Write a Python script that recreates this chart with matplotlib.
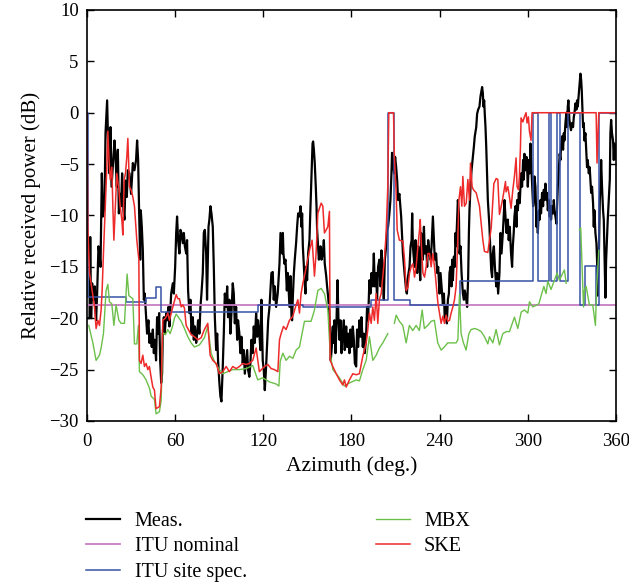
import numpy as np
import matplotlib
matplotlib.use("Agg")
import matplotlib.pyplot as plt

plt.rcParams['font.family'] = ['Liberation Serif', 'DejaVu Serif']

meas_az = [0, 1.7, 2.2, 2.8, 3.5, 4.4, 5.3, 6.2, 6.9, 7.8, 8.5, 9.2, 10.1, 10.8, 11.9, 12.6, 13.7, 14.4,
           15.3, 16.0, 16.7, 17.6, 18.7, 19.4, 20.3, 21.0, 21.7, 22.6, 23.2, 23.9, 24.8, 25.5, 26.2, 27.1,
           27.8, 28.9, 30.0, 31.2, 32.3, 33.4, 34.1, 34.8, 35.5, 36.2, 36.6, 37.3, 38.0, 38.7, 39.3, 40.2,
           40.9, 41.8, 42.5, 43.2, 44.1, 44.8, 45.5, 46.1, 47.0, 47.7, 48.4, 49.1, 49.8, 50.5, 51.1, 51.6,
           52.3, 52.9, 53.9, 54.5, 55.4, 56.1, 57.3, 58.4, 59.1, 60.0, 60.7, 61.3, 62.0, 62.9, 63.6, 64.3,
           65.2, 65.9, 66.6, 67.5, 68.1, 68.8, 69.7, 70.4, 71.1, 72.0, 72.7, 73.4, 74.3, 75.0, 75.6, 76.5,
           77.2, 77.9, 78.8, 79.5, 80.2, 81.1, 81.7, 82.7, 83.3, 84.0, 84.7, 85.6, 86.3, 87.0, 87.9, 88.6,
           89.2, 90.1, 90.8, 91.5, 92.4, 93.1, 93.8, 94.7, 95.4, 96.0, 96.9, 97.6, 98.3, 99.2, 99.9, 100.6,
           101.5, 102.2, 102.8, 103.7, 104.4, 105.1, 106.0, 106.7, 107.4, 108.3, 109.0, 109.6, 110.5, 111.2,
           111.9, 112.8, 113.5, 114.2, 115.1, 115.8, 116.4, 117.3, 118.0, 118.7, 119.6, 120.3, 121.0, 121.9,
           122.6, 123.3, 124.2, 124.8, 125.5, 126.4, 127.1, 127.8, 128.7, 129.8,
           131.0, 131.7, 132.4, 132.8, 133.3, 133.7, 134.4, 135.1, 136.0, 136.7, 137.4, 137.8, 138.5, 139.2,
           139.6, 140.1, 140.8, 141.4, 142.3, 143.0, 143.7, 144.6, 145.3, 146.0, 146.4, 146.9, 147.6, 148.2,
           148.7, 149.1, 149.8, 150.5, 151.4, 152.1, 152.8, 153.5, 153.9, 154.4, 155.0, 155.7, 156.2, 156.6,
           157.3, 157.8, 158.2, 158.9, 159.6, 160.5, 161.2, 161.8, 162.8, 163.4, 164.1, 164.8, 165.5, 165.9,
           166.6, 167.3, 167.7, 168.4, 169.1, 169.6, 170.5, 171.1, 171.8, 172.5, 173.2, 174.1, 174.8, 175.4,
           176.4, 177.0, 177.7, 178.6, 179.3, 180.0, 180.9, 181.6, 182.3, 183.2, 183.8, 184.5, 185.4, 186.1,
           186.8, 187.7, 188.4, 189.1, 190.0, 190.6, 191.3, 192.2, 192.9, 193.6, 194.5, 195.2, 195.9, 196.8,
           197.4, 198.1, 199.0, 199.7, 200.4, 201.3, 202.0, 202.7, 203.6, 204.2, 204.9, 205.8, 206.5, 207.2,
           207.6, 208.3, 209.0, 209.7, 210.4, 211.1, 211.7, 212.6,
           213.8, 215.0, 216.1, 217.2, 217.7, 218.4, 219.5, 220.2, 220.9, 221.3, 221.8, 222.5, 223.1, 223.6,
           224.0, 224.7, 225.4, 226.3, 226.8, 227.4, 228.1, 228.6, 229.3, 229.9, 230.8, 231.5, 232.2, 233.1,
           233.8, 234.5, 235.4, 236.1, 236.7, 237.6, 238.3, 239.0, 239.9, 240.6, 241.3, 242.2, 242.9, 243.5,
           244.2, 244.9, 245.6, 246.3, 246.7, 247.4, 248.1, 248.5, 249.0, 249.7, 250.3, 250.8, 251.2, 251.9,
           252.4, 253.1, 253.5, 254.2, 254.9, 255.8, 256.5, 257.1, 258.1, 258.7, 259.4, 259.9, 260.3, 261.0,
           261.7, 262.6, 263.3, 263.9, 264.9, 265.5, 266.2, 267.1, 267.8, 268.5, 268.9, 269.4, 269.8, 270.3,
           270.7, 271.2, 271.7, 272.1, 272.8, 273.5, 273.9, 274.4, 275.1, 275.7, 276.2, 276.9, 277.6, 278.5,
           279.1, 279.8, 280.7, 281.4, 282.1, 283.0, 283.7,
           284.1, 284.8, 285.5, 286.4, 287.0, 287.7, 288.6, 289.3, 289.8, 290.4, 290.9, 291.6, 292.3, 292.7,
           293.2, 293.9, 294.5, 295.0, 295.4, 296.1, 296.8, 297.3, 297.7, 298.4, 299.1, 299.5, 300.0, 300.7,
           301.3, 301.8, 302.2, 302.9, 303.6, 304.1, 304.5, 305.2, 305.9, 306.3, 306.8, 307.5, 308.1, 308.6,
           309.0, 309.7, 310.4, 310.9, 311.3, 312.0, 312.7, 313.1, 313.6, 314.3, 314.9, 315.4, 315.8, 316.5,
           317.2, 317.7, 318.1, 318.8, 319.5, 320.4, 321.1, 321.7, 322.2, 322.6, 323.3, 324.0, 324.5, 324.9,
           325.6, 326.3, 326.7, 327.2, 327.6, 328.3, 329.0, 329.4, 330.1, 330.8, 331.3, 331.7, 332.4, 333.1,
           333.5, 334.0, 334.7, 335.3, 335.8, 336.3, 336.7, 337.2, 337.6, 338.1, 338.5, 339.2, 339.9, 340.3,
           340.8, 341.5, 342.1, 342.6, 343.1, 343.7, 344.4, 344.9, 345.3, 346.0, 346.7, 347.1, 347.6, 348.3,
           349.0, 349.4, 349.9, 350.5, 351.2, 351.7, 352.1, 352.8, 353.3, 353.9, 354.4, 355.1, 355.8, 356.2,
           356.7, 357.3, 358.0, 358.5, 358.9, 360.0]
meas_db = [-20.0, -20.0, -12.1, -20.0, -16.6, -18.2, -16.9, -20.2, -17.6, -13.0, -13.7, -15.0, -5.9, -10.1,
           -9.1, -2.0, 1.2, -3.0, -5.9, -1.4, -7.2, -5.2, -2.7, -4.3, -7.2, -3.6, -9.8, -7.9, -9.1, -5.9,
           -9.5, -10.4, -6.6, -8.2, -5.6, -5.9, -7.9, -4.9, -5.6, -4.6, -2.7, -4.6, -9.8, -14.3, -9.5, -11.1,
           -13.4, -18.2, -17.6, -19.9, -21.5, -20.2, -22.4, -21.5, -22.8, -21.1, -23.4, -22.1, -24.1, -19.9,
           -21.5, -19.5, -24.1, -26.3, -25.4, -21.5, -19.9, -21.5, -19.5, -20.2, -18.9, -20.8, -17.6, -16.6,
           -17.6, -15.0, -11.7, -10.1, -12.4, -13.7, -11.4, -11.7, -12.7, -11.7, -13.0, -13.7, -12.4, -17.3,
           -19.5, -18.2, -21.5, -19.9, -22.1, -20.8, -22.4, -21.5, -20.2, -21.5, -18.9, -17.6, -15.6, -11.7,
           -11.4, -13.7, -18.2, -11.1, -10.4, -9.1, -9.8, -11.1, -15.0, -19.9, -23.1, -21.5, -24.1, -26.3,
           -27.6, -28.1, -24.7, -21.5, -17.6, -18.9, -16.9, -19.9, -18.2, -21.5, -19.5, -16.6, -17.6, -20.5,
           -18.9, -22.1, -20.2, -21.5, -23.4, -21.8, -24.4, -23.1, -25.4, -24.1, -23.1, -25.0, -25.7, -24.4,
           -22.1, -23.4, -20.8, -22.4, -19.5, -21.8, -20.2, -21.5, -23.1, -18.2, -24.1, -25.0, -27.0, -24.7,
           -22.4, -20.2, -18.9, -17.3, -15.6, -15.5, -18.2, -16.9, -18.9, -17.6,
           -14.7, -11.7, -13.0, -13.7, -11.7, -13.7, -14.7, -14.3, -17.3, -15.6, -17.6, -18.9, -15.9, -19.9,
           -20.2, -17.9, -15.6, -14.3, -12.7, -11.1, -9.8, -10.1, -9.1, -11.1, -9.8, -13.0, -15.0, -16.6,
           -17.6, -15.0, -16.3, -13.7, -12.4, -9.1, -6.2, -3.0, -2.8, -3.6, -4.9, -7.2, -9.1, -11.4,
           -13.0, -14.3, -13.7, -13.0, -14.3, -13.7, -12.4, -14.7, -15.9, -16.9, -17.9, -19.2, -21.5, -24.1,
           -22.8, -20.8, -22.4, -20.2, -23.4, -21.5, -16.3, -19.9, -22.1, -20.2, -23.4, -21.5, -20.2, -23.1,
           -20.8, -22.8, -21.5, -23.4, -21.1, -22.8, -20.8, -22.1, -24.4, -24.7, -21.1, -22.8, -20.2, -21.8,
           -19.9, -22.8, -21.5, -23.4, -21.5, -18.9, -20.2, -16.3, -17.6, -15.6, -16.9, -13.7, -16.9, -15.6,
           -18.2, -15.0, -14.3, -16.9, -13.4, -15.6, -18.2, -14.3, -13.0, -11.4, -11.1, -9.8, -8.5, -5.9,
           -3.9, -4.6, -5.9, -4.3, -5.3, -6.6, -8.5, -7.9,
           -10.1, -13.7, -15.6, -17.3, -17.6, -16.0, -15.0, -13.0, -12.4, -9.8, -13.0, -14.3, -15.0, -12.4,
           -14.3, -15.6, -13.0, -15.0, -16.3, -11.7, -13.0, -14.3, -11.1, -13.7, -13.0, -15.0, -12.4, -13.7,
           -14.3, -13.0, -10.1, -12.4, -14.3, -13.7, -15.6, -15.0, -17.6, -15.6, -16.9, -18.6, -17.6, -20.2,
           -18.9, -20.5, -18.2, -17.6, -15.6, -15.0, -16.9, -14.3, -16.3, -14.0, -15.0, -11.7, -13.0, -10.4,
           -8.5, -9.8, -13.7, -13.0, -15.6, -17.6, -18.2, -17.3, -18.2, -18.9, -16.0, -11.7, -9.5, -7.2,
           -5.6, -4.3, -3.3, -2.3, -1.4, -0.1, 0.3, 0.6, 1.6, 2.2, 2.5, 1.9, 0.6, 1.2,
           -0.1, -1.4, -3.3, -5.3, -8.5, -10.1, -11.1, -13.0, -15.3, -16.0, -13.7, -13.0, -15.0, -16.9,
           -15.6, -17.6, -15.6, -11.7, -13.7, -11.7, -9.8,
           -8.5, -10.1, -11.7, -10.4, -12.4, -11.1, -13.7, -15.0, -13.0, -11.7, -10.1, -9.1, -11.1, -8.5,
           -9.5, -7.8, -8.8, -7.2, -5.9, -7.2, -4.6, -6.5, -4.0, -5.6, -4.3, -5.3, -7.2, -4.6,
           -5.9, -3.0, -4.6, -6.9, -9.1, -8.5, -6.2, -7.2, -11.1, -9.8, -11.7, -9.5, -10.4, -8.5,
           -9.8, -7.8, -9.1, -7.5, -8.5, -6.9, -8.5, -7.8, -9.5, -8.5, -10.1, -9.1, -10.4, -9.1,
           -9.8, -8.5, -9.5, -10.1, -10.8, -7.2, -5.6, -4.0, -4.6, -3.3, -2.3, -3.6, -2.0, -2.7,
           -1.0, 0.0, -1.4, 0.6, 1.2, -0.7, -1.4, -1.7, -1.0, -1.4, -0.4, -0.1, 0.9, 0.3,
           1.2, 0.6, 1.9, 2.9, 3.8, 3.2, 2.2, 0.3, -1.4, -1.0, -2.7, -2.0, -4.0, -5.3,
           -4.6, -5.9, -5.3, -6.5, -7.8, -7.2, -8.8, -11.1, -9.5, -11.7, -12.7, -14.3, -17.8, -14.3,
           -8.5, -7.2, -4.6, -7.2, -9.5, -10.4, -13.0, -18.0, -14.3, -12.1, -10.4, -8.5, -6.5, -2.0,
           -0.7, -2.0, -2.7, -4.6, -3.0, -4.5]

# ITU nominal
itu_nom_az = [0, 360]
itu_nom_db = [-18.7, -18.7]

# ITU site specific: step edges and level after each edge
itu_site_az = [0, 0.5, 26.6, 40.3, 47.1, 50.5, 116.3, 146.9, 193.0, 204.7, 208.8, 219.5, 253.7,
               303.4, 306.8, 314.3, 316.1, 319.8, 321.6, 323.2, 327.2, 335.2, 338.6, 346.5, 348.3, 360]
itu_site_db = [0, -17.95, -18.4, -18.0, -17.0, -19.4, -18.7, -18.9, -18.2, 0, -18.2, -18.7, -16.4,
               0, -16.4, 0, -16.4, 0, -16.4, -16.4, 0, -18.7, -14.9, -18.7, 0, 0]

# MBX (nan = not drawn)
mbx_az = [1.2, 4.0, 6.2, 8.5, 9.6, 11.2, 13.0, 14.2, 15.3, 16.9, 18.3, 19.8, 21.7, 23.2, 25.5, 26.6,
          27.3, 28.5, 31.2, 32.3, 33.9, 35.0, 35.7, 38.0, 40.2, 42.5, 43.7, 45.9, 47.0, 49.3, 50.5, 51.6,
          53.4, 55.0, 56.6, 58.4, 59.5, 60.7, 62.2, 64.1, 66.3, 68.6, 70.9, 73.1, 76.5, 79.9, 82.2, 84.5,
          86.7, 90.1, 92.4, 95.8, 99.2, 103.7, 108.3, 112.8, 116.2, 119.6, 124.2, 128.7, 130.6, 131.5,
          133.3, 135.5, 137.8, 140.1, 142.3, 144.6, 148.0, 150.3, 152.5, 154.8, 157.1, 159.4, 161.6, 163.9,
          165.5, 167.3, 171.8, 175.2, 178.6, 183.2, 185.4, 187.7, 190.0, 192.2, 194.5, 196.8, 199.0, 201.3,
          204.7, 206.5, 209.2, 210.4, 212.6, 214.9, 217.2, 219.4, 221.7, 224.0, 226.2, 228.1, 229.6, 231.9,
          234.2, 236.4, 238.7, 241.0, 243.2, 245.5, 247.8, 251.2, 252.4, 253.5, 254.6, 256.2, 258.0, 259.9,
          261.4, 263.7, 266.0, 268.2, 270.5, 272.8, 273.9, 276.2, 278.4, 280.7, 283.0, 285.3, 287.5, 288.7,
          290.9, 293.2, 295.5, 297.7, 300.0, 301.1, 303.4, 307.5, 310.9, 312.4, 313.6, 315.8, 318.1, 319.9,
          321.5, 323.8, 324.9, 326.1, 330.0, 335.1, 336.0, 337.9, 338.5, 339.7, 341.9, 344.2, 346.0, 346.9,
          348.3]
mbx_db = [-20.7, -22.4, -24.1, -23.6, -22.9, -21.5, -17.3, -16.7, -18.4, -18.6, -20.7, -18.7, -20.2,
          -20.5, -20.5, -17.6, -15.7, -17.8, -18.1, -22.5, -22.5, -20.7, -25.2, -25.5, -26.0, -26.8, -27.6,
          -27.9, -29.3, -29.1, -28.0, -21.4, -21.6, -21.1, -21.5, -20.7, -20.0, -19.6, -19.9, -20.3, -21.0,
          -21.8, -22.4, -22.8, -22.6, -21.9, -20.8, -23.4, -24.2, -25.0, -25.4, -25.2, -25.0, -25.0, -24.9,
          -24.6, -26.0, -25.8, -26.2, -26.4, -26.6, -24.2, -23.4, -24.1, -23.7, -23.9, -23.1, -22.8, -20.3,
          -20.3, -20.3, -19.2, -17.3, -17.1, -17.6, -19.2, -23.4, -25.0, -25.8, -26.6, -26.3, -26.0, -26.1,
          -25.0, -24.1, -21.8, -24.1, -23.6, -22.9, -22.4, -21.5, np.nan, -20.5, -19.7, -20.3, -20.7, -22.4,
          -20.7, -21.2, -20.7, -21.2, -19.2, -21.0, -20.7, -20.3, -20.2, -22.4, -23.1, -22.8, -22.4, -22.4,
          -22.4, -22.1, -17.7, -21.5, -22.4, -23.1, -21.5, -21.1, -21.0, -21.1, -21.3, -21.8, -22.5, -21.8,
          -22.4, -21.1, -22.6, -21.5, -21.3, -21.3, -20.8, -19.9, -21.0, -19.4, -19.2, -19.5, -18.4, -18.9,
          -18.6, -16.9, -17.6, -16.4, -17.2, -16.3, -15.6, -16.3, -15.6, -15.3, -16.6, np.nan, -11.4, -11.2,
          -18.9, -17.3, -16.9, -18.7, -18.7, -20.7, -16.9, -13.4]

# SKE
ske_az = [0, 0.6, 1.7, 3.5, 5.1, 6.2, 7.4, 8.5, 9.6, 10.3, 11.2, 12.6, 13.5, 14.2, 14.9, 15.8, 16.9, 17.6,
          18.3, 19.4, 20.3, 21.7, 22.6, 23.7, 24.4, 25.3, 26.2, 27.1, 27.8, 28.9, 30.0, 31.2, 32.3, 33.9,
          35.3, 35.7, 36.8, 38.0, 39.1, 40.2, 41.4, 42.5, 43.7, 44.8, 45.9, 47.0, 49.3, 50.5, 51.6, 53.4,
          55.0, 56.1, 57.3, 58.8, 60.7, 61.8, 62.9, 64.1, 65.2, 66.3, 67.5, 68.6, 70.9, 73.1, 75.4, 77.7,
          79.9, 82.2, 83.8, 85.6, 87.9, 90.1, 92.4, 94.7, 96.9, 99.2, 101.5, 103.7, 106.0, 108.3, 110.5,
          112.8, 115.1, 117.3, 120.8, 123.1, 125.3, 127.6, 129.9, 131.0, 132.1, 133.7, 135.5, 137.8, 140.1,
          141.9, 143.5, 144.6, 145.7, 146.9, 148.0, 149.6, 151.4, 153.2, 154.8, 155.9, 157.1, 158.2, 159.4,
          160.5, 161.6, 162.8, 163.9, 165.0, 165.5, 167.3, 169.6, 171.8, 174.1, 175.2, 176.4, 178.6, 180.9,
          183.2, 185.4, 187.7, 190.0, 191.1, 192.2, 193.4, 194.5, 195.6, 196.8, 197.9, 199.0, 200.2, 201.3,
          202.4, 203.6, 204.7, 205.4, 208.6, 209.2, 210.4, 211.1, 212.6, 215.0, 216.1, 217.2, 218.4, 219.5,
          220.6, 221.8, 222.9, 224.0, 225.2, 226.3, 226.8, 227.4, 228.6, 229.7, 230.8, 232.0, 233.1, 234.2,
          235.4, 236.5, 237.6, 238.8, 239.9, 241.0, 242.2, 243.3, 244.4, 245.6, 246.7, 247.8, 249.0, 250.1,
          251.2, 252.4, 253.1, 254.2, 255.1, 255.8, 256.9, 258.1, 259.2, 260.3, 261.0, 262.1, 263.0, 264.9,
          267.1, 268.3, 269.4, 270.5, 272.8, 273.9, 275.1, 275.7, 276.9, 278.5, 279.6, 280.7, 281.9, 283.0,
          284.8, 285.2, 286.4, 287.5, 288.6, 289.8, 290.9, 292.0, 292.7, 293.6, 294.3, 295.0, 295.4, 296.6,
          297.7, 298.8, 299.5, 300.4, 301.1, 302.2, 302.9, 346.5, 347.1, 348.3, 360]
ske_db = [0.0, -11.1, -15.6, -17.3, -18.9, -21.0, -20.2, -20.7, -19.2, -17.3, -13.7, -8.5, -5.3, -1.8,
          -4.3, -6.5, -5.3, -9.1, -12.4, -8.8, -5.9, -7.5, -9.1, -10.4, -11.9, -6.5, -5.9, -4.3, -2.5,
          -7.2, -7.5, -8.2, -9.1, -12.4, -14.3, -24.1, -24.4, -23.6, -24.7, -24.4, -25.0, -24.7, -25.8,
          -26.7, -27.0, -28.8, -28.6, -26.7, -20.2, -20.0, -19.5, -20.2, -19.5, -18.7, -17.7, -18.1, -18.1,
          -18.9, -18.7, -19.0, -20.7, -21.0, -21.6, -21.8, -22.1, -21.9, -21.1, -20.5, -23.6, -24.1, -24.4,
          -25.4, -25.2, -24.7, -25.2, -24.7, -24.9, -24.7, -24.4, -24.5, -24.4, -24.1, -22.9, -25.2, -24.7,
          -24.5, -24.9, -25.0, -25.2, -22.1, -21.5, -20.8, -21.1, -20.2, -19.8, -18.9, -18.2, -19.5, -17.6,
          -16.6, -15.9, -14.7, -13.4, -12.4, -15.9, -13.7, -9.8, -9.3, -8.8, -9.1, -11.7, -11.4, -11.1,
          -9.6, -24.1, -24.7, -25.4, -26.0, -26.5, -26.0, -26.7, -26.0, -25.4, -25.5, -25.4, -23.7, -22.4,
          -21.1, -19.5, -20.5, -18.9, -20.2, -17.6, -20.5, -18.2, -17.6, -15.9, -14.3, -11.7, -7.2, 0.0,
          0.0, -4.3, -7.8, -11.4, -12.4, -12.5, -14.3, -17.3, -17.0, -15.6, -15.0, -14.7, -16.0, -15.0,
          -13.0, -11.4, -10.4, -12.4, -15.6, -16.0, -15.0, -13.7, -13.7, -15.0, -13.7, -15.0, -16.6, -18.5,
          -19.5, -20.5, -19.8, -20.5, -19.7, -20.3, -20.2, -19.5, -18.9, -18.2, -16.9, -12.1, -8.5, -7.2,
          -9.1, -6.2, -9.1, -8.8, -6.5, -8.5, -4.9, -7.2, -7.5, -7.8, -9.1, -10.8, -12.4, -13.5, -13.6,
          -12.4, -11.2, -9.8, -6.9, -6.4, -6.5, -9.9, -9.1, -8.3, -6.7, -7.7, -7.2, -8.2, -9.3, -7.5, -6.2,
          -4.4, -7.2, -7.5, -6.2, -3.3, -0.5, -0.9, -0.4, 0.0, -1.0, -0.4, -1.8, -2.7, 0.0, 0.0, -4.9,
          0.0, 0.0]

xticks = [0, 60, 120, 180, 240, 300, 360]
yticks = [-30, -25, -20, -15, -10, -5, 0, 5, 10]

fig = plt.figure(figsize=(6.29, 5.86), dpi=100)
ax = fig.add_axes([0.1383, 0.2816, 0.8410, 0.7014])

ax.plot(meas_az, meas_db, color='black', lw=1.6, label='Meas.')
ax.plot(itu_nom_az, itu_nom_db, color='#c77dc3', lw=1.3, label='ITU nominal')
ax.step(itu_site_az, itu_site_db, where='post', color='#3552a5', lw=1.1, label='ITU site spec.')
ax.plot(mbx_az, mbx_db, color='#6cc04a', lw=1.0, label='MBX')
ax.plot(ske_az, ske_db, color='#ee2a2a', lw=1.1, label='SKE')

ax.set_xlim(0, 360)
ax.set_ylim(-30, 10)
ax.set_xticks(xticks)
ax.set_yticks(yticks)
ax.tick_params(direction='in', length=5, width=1, top=True, right=True, labelsize=13.5)
ax.tick_params(axis='x', pad=9)
ax.tick_params(axis='y', pad=6)
for s in ax.spines.values():
    s.set_linewidth(1.2)
ax.set_xlabel('Azimuth (deg.)', fontsize=15.5, labelpad=4)
ax.set_ylabel('Relative received power (dB)', fontsize=15, labelpad=6)

fig.legend(loc='upper left', bbox_to_anchor=(0.137, 0.127), ncol=2, frameon=False,
           fontsize=14.5, handlelength=1.7, handletextpad=0.7, columnspacing=6.4,
           labelspacing=0.32, borderpad=0, borderaxespad=0)

fig.savefig('out.png', dpi=100)
